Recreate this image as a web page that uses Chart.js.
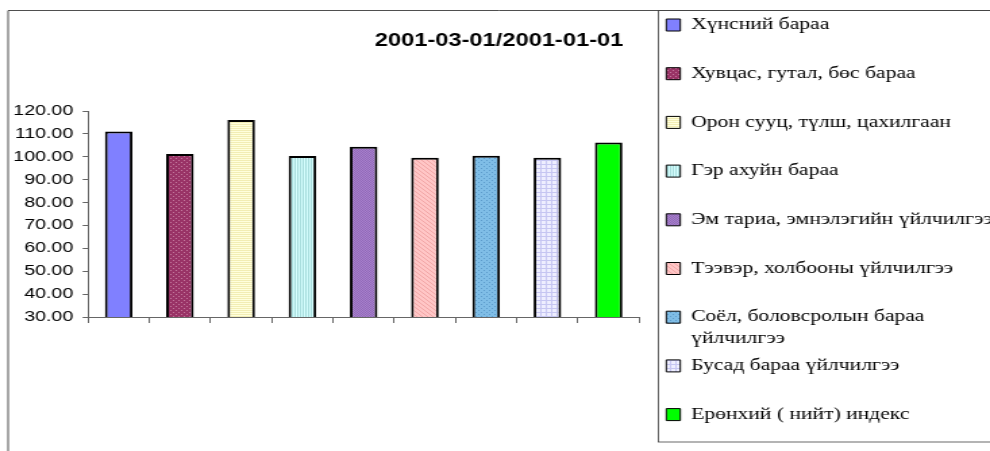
<!DOCTYPE html>
<html>
<head>
<meta charset="utf-8">
<script src="https://cdn.jsdelivr.net/npm/chart.js@4/dist/chart.umd.min.js"></script>
<style>
  html, body { margin: 0; padding: 0; background: #fff; }
</style>
</head>
<body>
<!-- the source picture is stretched sideways, so the canvas is drawn narrow and widened by its inline style -->
<canvas id="chart" width="733" height="451" style="display:block;width:990px;height:451px"></canvas>
<script>
// ── Data ──────────────────────────────────────────────────────────
const TITLE = '2001-03-01/2001-01-01';

const CATEGORIES = [
  'Хүнсний бараа',
  'Хувцас, гутал, бөс бараа',
  'Орон сууц, түлш, цахилгаан',
  'Гэр ахуйн бараа',
  'Эм тариа, эмнэлэгийн үйлчилгээ',
  'Тээвэр, холбооны үйлчилгээ',
  'Соёл, боловсролын бараа\nүйлчилгээ',
  'Бусад бараа үйлчилгээ',
  'Ерөнхий ( нийт) индекс',
];

const INDEX_VALUES = [111.0, 101.2, 116.1, 100.3, 104.4, 99.6, 100.5, 99.6, 106.2];

const Y_MIN  = 30;
const Y_MAX  = 120;
const Y_STEP = 10;

// fill style per bar: [pattern kind, base colour, ink colour]
const BAR_FILLS = [
  ['solid',   '#8080FF', null],
  ['dots',    '#993366', '#C47A9E'],
  ['hlines',  '#FFFFDC', '#F2EDB4'],
  ['vlines',  '#D6FFFF', '#A6DCDC'],
  ['checker', '#A982CD', '#9068B8'],
  ['diag',    '#FFC6C6', '#F2A6A6'],
  ['dots',    '#7FBDE6', '#5C9BCB'],
  ['grid',    '#EEEEFF', '#C6C6F2'],
  ['solid',   '#00FF00', null],
];

// ── Patterns ──────────────────────────────────────────────────────
function makeFill(ctx, [kind, base, ink]) {
  if (kind === 'solid') return base;
  const c = document.createElement('canvas');
  c.width = 4; c.height = 4;
  const g = c.getContext('2d');
  g.fillStyle = base;
  g.fillRect(0, 0, 4, 4);
  g.fillStyle = ink;
  if (kind === 'dots') {
    g.fillRect(0, 0, 1, 1); g.fillRect(2, 2, 1, 1);
  } else if (kind === 'hlines') {
    g.fillRect(0, 0, 4, 1); g.fillRect(0, 2, 4, 1);
  } else if (kind === 'vlines') {
    g.fillRect(0, 0, 1, 4); g.fillRect(2, 0, 1, 4);
  } else if (kind === 'checker') {
    g.fillRect(0, 0, 1, 1); g.fillRect(2, 0, 1, 1); g.fillRect(1, 1, 1, 1); g.fillRect(3, 1, 1, 1);
    g.fillRect(0, 2, 1, 1); g.fillRect(2, 2, 1, 1); g.fillRect(1, 3, 1, 1); g.fillRect(3, 3, 1, 1);
  } else if (kind === 'diag') {
    for (let i = 0; i < 4; i++) g.fillRect(i, i, 1, 1);
  } else if (kind === 'grid') {
    g.fillRect(0, 0, 4, 1); g.fillRect(0, 0, 1, 4);
  }
  return ctx.createPattern(c, 'repeat');
}

// chart frame and legend box, drawn behind everything
const framePlugin = {
  id: 'frames',
  beforeDraw(chart) {
    const { ctx, legend } = chart;
    ctx.save();
    ctx.lineWidth = 0.8;
    ctx.strokeStyle = '#222';
    ctx.beginPath();
    ctx.moveTo(6, chart.height);
    ctx.lineTo(6, 10.5);
    ctx.lineTo(chart.width, 10.5);
    ctx.stroke();
    ctx.strokeStyle = '#444';
    ctx.strokeRect(legend.left + 0.5, 10.5, chart.width, 431.5);
    ctx.restore();
  }
};

// ── Chart ─────────────────────────────────────────────────────────
const canvas = document.getElementById('chart');
const ctx = canvas.getContext('2d');
const fills = BAR_FILLS.map(f => makeFill(ctx, f));
const legendLines = CATEGORIES.map(t => {
  const lines = t.split('\n');
  return lines.length > 1 ? lines : [lines[0], ''];
});

Chart.defaults.font.family = "'Liberation Sans', Arial, sans-serif";
Chart.defaults.color = '#000';

new Chart(ctx, {
  type: 'bar',
  data: {
    labels: CATEGORIES,
    datasets: [{
      data: INDEX_VALUES,
      backgroundColor: fills,
      borderColor: '#000',
      borderWidth: 2,
      borderSkipped: false,
      barPercentage: 0.45,
      categoryPercentage: 1,
    }]
  },
  options: {
    responsive: false,
    animation: false,
    layout: { padding: { left: 6, top: 10.7, right: 0, bottom: 0 } },
    scales: {
      x: {
        ticks:  { display: false },
        grid:   { display: true, drawOnChartArea: false, tickLength: 6, color: '#666', offset: true },
        border: { color: '#666', width: 1 },
        afterFit: s => { s.height = 134; },
      },
      y: {
        min: Y_MIN, max: Y_MAX,
        ticks:  { stepSize: Y_STEP, padding: 7, font: { size: 14.5 }, callback: v => v.toFixed(2) },
        grid:   { display: true, drawOnChartArea: false, tickLength: 4, color: '#666' },
        border: { color: '#666', width: 1 },
        afterFit: s => { s.width = 59.2; },
      },
      // spacer between the plot and the legend box
      gap: {
        position: 'right',
        display: true,
        ticks:  { display: false },
        grid:   { display: false },
        border: { display: false },
        afterFit: s => { s.width = 13.7; },
      }
    },
    plugins: {
      title: {
        display: true,
        text: TITLE,
        color: '#000',
        font: { size: 17.5, weight: 'bold' },
        padding: { top: 19.8, bottom: 59.5 },
      },
      legend: {
        display: true,
        position: 'right',
        align: 'start',
        maxWidth: 246,
        labels: {
          boxWidth: 10.4,
          boxHeight: 12,
          padding: 6.3,
          color: '#000',
          font: { family: "'Liberation Serif', 'Times New Roman', serif", size: 16, lineHeight: 1.325 },
          generateLabels: () => legendLines.map((lines, i) => ({
            text: lines,
            fillStyle: fills[i],
            strokeStyle: '#000',
            lineWidth: 1,
            fontColor: '#000',
            hidden: false,
            index: i,
          })),
        }
      },
      tooltip: { enabled: false }
    }
  },
  plugins: [framePlugin]
});
</script>
</body>
</html>
